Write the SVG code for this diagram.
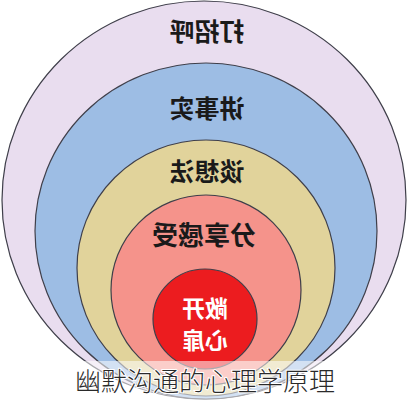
<svg xmlns="http://www.w3.org/2000/svg" width="409" height="400" viewBox="0 0 409 400">
<style>
.ring{stroke:#3f3f4a;stroke-width:1.2}
.lbl{font-family:"Noto Sans CJK SC","Noto Sans CJK JP",sans-serif;font-weight:700;font-size:25px;fill:#1a1a1a;text-anchor:middle}
.core{fill:#ffffff;font-size:23px}
.cap{font-family:"Noto Sans CJK SC","Noto Sans CJK JP",sans-serif;font-weight:300;font-size:26px;fill:#2a2a2a;text-anchor:middle;stroke:#ffffff;stroke-width:2;paint-order:stroke}
</style>
<rect width="409" height="400" fill="#ffffff"/>
<g id="ring1"><ellipse class="ring" cx="204" cy="200" rx="202" ry="199" fill="#e9ddef"/>
<g transform="translate(207,0) scale(-1,1)"><text class="lbl" x="0" y="41">打招呼</text></g></g>
<g id="ring2"><ellipse class="ring" cx="206" cy="231" rx="171" ry="168" fill="#9dbde4"/>
<g transform="translate(207,0) scale(-1,1)"><text class="lbl" x="0" y="118">讲事实</text></g></g>
<g id="ring3"><ellipse class="ring" cx="206" cy="268" rx="129" ry="128" fill="#e1d39b"/>
<g transform="translate(207,0) scale(-1,1)"><text class="lbl" x="0" y="181">谈想法</text></g></g>
<g id="ring4"><ellipse class="ring" cx="206" cy="290" rx="95" ry="95" fill="#f5938b"/>
<g transform="translate(204,0) scale(-1,1)"><text class="lbl" x="0" y="245" style="font-size:26px">分享感受</text></g></g>
<g id="core"><ellipse class="ring" cx="205" cy="319" rx="52" ry="50" fill="#ec1c1f"/>
<g transform="translate(205,0) scale(-1,1)"><text class="lbl core" x="0" y="317">敞开</text><text class="lbl core" x="0" y="349">心扉</text></g></g>
<g id="connectors"></g>
<rect x="0" y="361" width="409" height="39" fill="#ffffff" opacity="0.55"/>
<g id="caption"><text class="cap" x="205" y="391">幽默沟通的心理学原理</text></g>
</svg>
